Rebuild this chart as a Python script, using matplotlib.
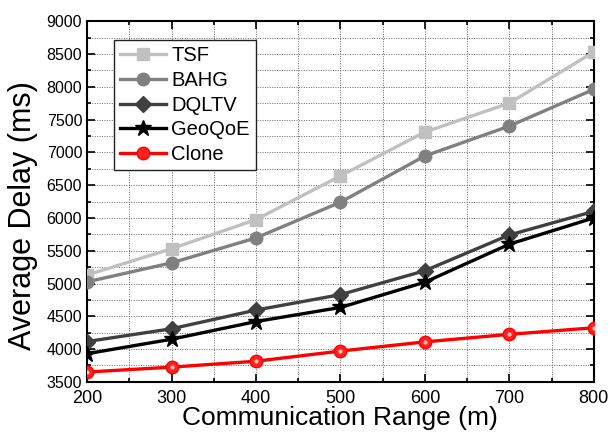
import matplotlib
matplotlib.use("Agg")
import matplotlib.pyplot as plt
from matplotlib.ticker import MultipleLocator

plt.rcParams['font.family'] = ['Liberation Sans', 'DejaVu Sans']

x = [200, 300, 400, 500, 600, 700, 800]
tsf = [5130, 5530, 5975, 6640, 7310, 7750, 8530]
bahg = [5025, 5315, 5695, 6240, 6945, 7400, 7960]
dqltv = [4115, 4310, 4595, 4830, 5195, 5740, 6100]
geoqoe = [3930, 4150, 4420, 4635, 5020, 5600, 6000]
clone = [3650, 3725, 3815, 3970, 4110, 4225, 4325]

fig = plt.figure(figsize=(6.09, 4.32), dpi=100)
ax = fig.add_axes([0.143, 0.116, 0.832, 0.835])

lw = 2.4
ax.plot(x, tsf, color='#c0c0c0', lw=lw, marker='s', ms=8, label='TSF', zorder=3)
ax.plot(x, bahg, color='#808080', lw=lw, marker='o', ms=9, label='BAHG', zorder=3)
ax.plot(x, dqltv, color='#404040', lw=lw, marker='D', ms=8, label='DQLTV', zorder=3)
ax.plot(x, geoqoe, color='#000000', lw=lw, marker='*', ms=12, label='GeoQoE', zorder=3)
ax.plot(x, clone, color='#ff0000', lw=lw, marker='o', ms=9, mfc='#ff2020',
        mec='#ff0000', label='Clone', zorder=3)
ax.plot(x, clone, ls='none', marker='o', ms=3, mfc='#ffc0c0', mec='none', zorder=4)

ax.set_xlim(200, 800)
ax.set_ylim(3500, 9000)
ax.xaxis.set_major_locator(MultipleLocator(100))
ax.xaxis.set_minor_locator(MultipleLocator(50))
ax.yaxis.set_major_locator(MultipleLocator(500))
ax.yaxis.set_minor_locator(MultipleLocator(250))
ax.grid(True, which='both', ls=(0, (1, 1.5)), color='#666666', lw=0.7)
ax.set_axisbelow(True)

ax.tick_params(which='both', direction='in', top=True, right=True, width=1.2)
ax.tick_params(which='major', length=6)
ax.tick_params(which='minor', length=3)
ax.tick_params(axis='x', labelsize=13, pad=6)
ax.tick_params(axis='y', labelsize=11.5)

for s in ax.spines.values():
    s.set_linewidth(1.5)

ax.set_xlabel('Communication Range (m)', fontsize=19, labelpad=-1)
ax.set_ylabel('Average Delay (ms)', fontsize=22, labelpad=0)
ax.yaxis.set_label_coords(-0.097, 0.46)

leg = ax.legend(loc='upper left', bbox_to_anchor=(0.053, 0.947), fontsize=14.5,
                frameon=True, fancybox=False, edgecolor='#222222', framealpha=1,
                handlelength=2.3, borderpad=0.3, labelspacing=0.28, handletextpad=0.25,
                borderaxespad=0)
leg.get_frame().set_linewidth(1.0)

fig.savefig('out.png', dpi=100)
